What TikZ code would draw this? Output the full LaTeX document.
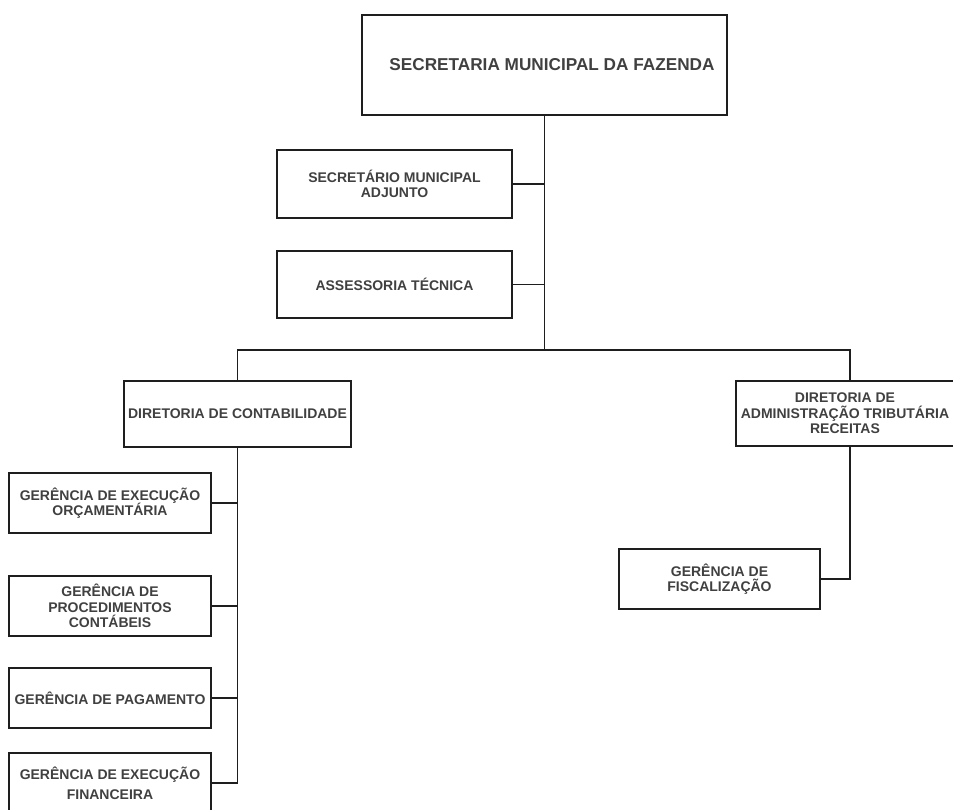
\documentclass[tikz,border=0pt]{standalone}
\usepackage{fontspec}
\setmainfont{Liberation Sans}
\definecolor{txtgray}{RGB}{64,64,64}
\definecolor{linegray}{RGB}{30,30,30}
\begin{document}
\begin{tikzpicture}[x=1pt,y=-1pt,
  box/.style={draw=linegray, line width=1.5pt, rectangle, inner sep=1pt, align=center,
    text=txtgray, font=\fontsize{14}{15.5}\selectfont\bfseries},
  conn/.style={draw=linegray, line width=1.7pt}]
\useasboundingbox (0,0) rectangle (953,810);
\node[box, minimum width=365pt, minimum height=100pt, font=\fontsize{17.2}{19}\selectfont\bfseries] (top) at (544.5,65) {\hspace*{15pt}SECRETARIA MUNICIPAL DA FAZENDA};
\node[box, minimum width=235pt, minimum height=68pt] (sec) at (394.5,184) {SECRETÁRIO MUNICIPAL\\ADJUNTO};
\node[box, minimum width=235pt, minimum height=67pt] (ass) at (394.5,284.5) {ASSESSORIA TÉCNICA};
\node[box, minimum width=227pt, minimum height=66pt] (dc) at (237.5,414) {DIRETORIA DE CONTABILIDADE};
\node[box, minimum width=218pt, minimum height=65pt] (da) at (845,413.5) {DIRETORIA DE\\ADMINISTRAÇÃO TRIBUTÁRIA\\RECEITAS};
\node[box, minimum width=201pt, minimum height=60pt] (gf) at (719.5,579) {GERÊNCIA DE\\FISCALIZAÇÃO};
\node[box, minimum width=202pt, minimum height=60pt] (g1) at (110,503) {GERÊNCIA DE EXECUÇÃO\\ORÇAMENTÁRIA};
\node[box, minimum width=202pt, minimum height=60pt] (g2) at (110,606) {GERÊNCIA DE\\PROCEDIMENTOS\\CONTÁBEIS};
\node[box, minimum width=202pt, minimum height=60pt] (g3) at (110,698) {GERÊNCIA DE PAGAMENTO};
\node[box, minimum width=202pt, minimum height=60pt, font=\fontsize{14}{20}\selectfont\bfseries] (g4) at (110,783) {GERÊNCIA DE EXECUÇÃO\\FINANCEIRA};
\coordinate (busL) at (237.5,350);
\coordinate (busR) at (850,350);
\coordinate (busM) at (544.5,350);
\draw[conn] (top.south) -- (busM);
\draw[conn] (sec.east) -- (sec.east -| busM);
\draw[conn] (ass.east) -- (ass.east -| busM);
\draw[conn] (dc.north) -- (busL) -- (busR) -- (busR |- da.north);
\draw[conn] (busR |- da.south) -- (busR |- gf.east) -- (gf.east);
\draw[conn] (dc.south) -- (dc.south |- g4.east) -- (g4.east);
\draw[conn] (g1.east) -- (g1.east -| dc.south);
\draw[conn] (g2.east) -- (g2.east -| dc.south);
\draw[conn] (g3.east) -- (g3.east -| dc.south);
\end{tikzpicture}
\end{document}
